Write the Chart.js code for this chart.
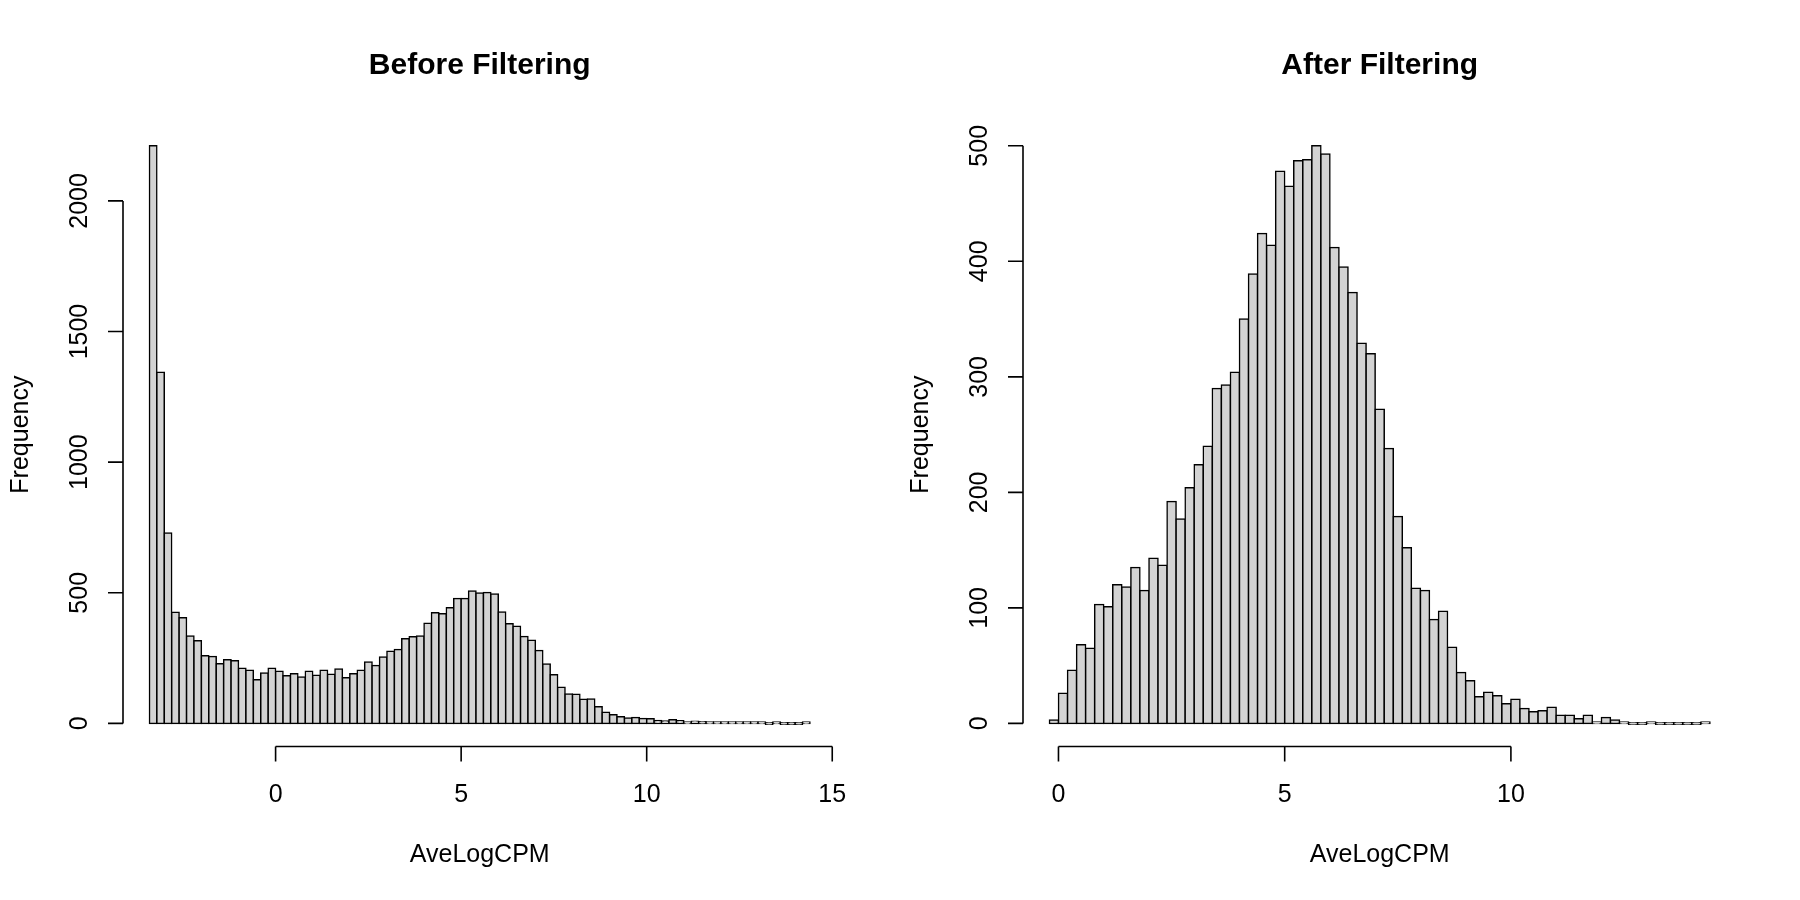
<!DOCTYPE html>
<html>
<head>
<meta charset="utf-8">
<title>AveLogCPM histograms</title>
<script src="https://cdn.jsdelivr.net/npm/chart.js@4.4.1/dist/chart.umd.min.js"></script>
<style>
  html, body { margin: 0; padding: 0; background: #fff; }
  #wrap { display: flex; width: 1800px; height: 900px; }
  canvas { display: block; }
</style>
</head>
<body>
<div id="wrap">
  <canvas id="before" width="900" height="900"></canvas>
  <canvas id="after" width="900" height="900"></canvas>
</div>
<script>
// histogram breaks are 0.2 wide; counts, one per bin
const binWidth = 0.2;

const beforeStart = -3.4;
const beforeCounts = [
  2211, 1344, 729, 425, 404, 335, 316, 259, 256, 228, 244, 240, 211, 203, 167, 193, 211,
  200, 182, 190, 178, 200, 184, 203, 188, 208, 175, 190, 203, 235, 222, 254, 276, 283, 324, 332, 335,
  383, 424, 420, 443, 478, 478, 507, 499, 501, 495, 426, 381, 372, 333, 318, 279, 227, 186, 138, 113,
  112, 92, 93, 64, 43, 33, 25, 21, 23, 19, 18, 11, 9, 14, 10, 5, 8, 6, 5, 5,
  3, 3, 3, 1, 1, 1, 0, 1, 0, 0, 0, 1
];

const afterStart = -0.2;
const afterCounts = [
  3,
  26, 46, 68, 65, 103, 101, 120, 118, 135, 115, 143, 137, 192, 177, 204, 224, 240, 290, 293, 304,
  350, 389, 424, 414, 478, 465, 487, 488, 500, 493, 412, 395, 373, 329, 320, 272, 238, 179, 152, 117,
  115, 90, 97, 66, 44, 37, 23, 27, 24, 17, 21, 13, 10, 11, 14, 7, 7, 4, 7, 1,
  5, 3, 1, 0, 0, 1, 0, 0, 0, 0, 0, 1
];

const beforeXTicks = [0, 5, 10, 15];
const beforeYTicks = [0, 500, 1000, 1500, 2000];
const afterXTicks = [0, 5, 10];
const afterYTicks = [0, 100, 200, 300, 400, 500];

const FONT = '"Liberation Sans", Arial, Helvetica, sans-serif';

// base-R style axes: line only between first and last tick, labels parallel to axis
const rAxes = {
  id: 'rAxes',
  afterDraw(chart, args, opts) {
    const { ctx, chartArea: a, scales: { x, y } } = chart;
    ctx.save();
    ctx.strokeStyle = '#000';
    ctx.fillStyle = '#000';
    ctx.lineWidth = 1.6;

    // x axis
    const xs = opts.xTicks.map(v => x.getPixelForValue(v));
    ctx.beginPath();
    ctx.moveTo(xs[0], a.bottom);
    ctx.lineTo(xs[xs.length - 1], a.bottom);
    xs.forEach(px => { ctx.moveTo(px, a.bottom); ctx.lineTo(px, a.bottom + 15); });
    ctx.stroke();
    ctx.font = '25px ' + FONT;
    ctx.textAlign = 'center';
    ctx.textBaseline = 'alphabetic';
    opts.xTicks.forEach((v, i) => ctx.fillText(String(v), xs[i], a.bottom + 55));

    // y axis
    const ys = opts.yTicks.map(v => y.getPixelForValue(v));
    ctx.beginPath();
    ctx.moveTo(a.left, ys[0]);
    ctx.lineTo(a.left, ys[ys.length - 1]);
    ys.forEach(py => { ctx.moveTo(a.left, py); ctx.lineTo(a.left - 15, py); });
    ctx.stroke();
    opts.yTicks.forEach((v, i) => {
      ctx.save();
      ctx.translate(a.left - 36, ys[i]);
      ctx.rotate(-Math.PI / 2);
      ctx.fillText(String(v), 0, 0);
      ctx.restore();
    });

    // axis titles
    const cx = (a.left + a.right) / 2;
    const cy = (a.top + a.bottom) / 2;
    ctx.fillText(opts.xLabel, cx, a.bottom + 115);
    ctx.save();
    ctx.translate(a.left - 95, cy);
    ctx.rotate(-Math.PI / 2);
    ctx.fillText(opts.yLabel, 0, 0);
    ctx.restore();

    // main title
    ctx.font = 'bold 30px ' + FONT;
    ctx.fillText(opts.title, cx, a.top - 49);
    ctx.restore();
  }
};

function histChart(canvasId, start, counts, xTicks, yTicks, title) {
  const centers = counts.map((c, i) => Math.round((start + (i + 0.5) * binWidth) * 1000) / 1000);
  const lo = start, hi = start + counts.length * binWidth;
  const ymax = Math.max(...counts);
  // R pads axis ranges by 4%
  const xPad = (hi - lo) * 0.04, yPad = ymax * 0.04;

  return new Chart(document.getElementById(canvasId), {
    type: 'bar',
    data: {
      datasets: [{
        data: counts.map((c, i) => ({ x: centers[i], y: c })),
        backgroundColor: '#D3D3D3',
        borderColor: '#000',
        borderWidth: 1.5,
        borderSkipped: false,
        inflateAmount: 0.75,
        minBarLength: 1.5,
        barPercentage: 1,
        categoryPercentage: 1
      }]
    },
    plugins: [rAxes],
    options: {
      responsive: false,
      animation: false,
      devicePixelRatio: 1,
      layout: { padding: { left: 123, right: 63.6, top: 122.7, bottom: 153.5 } },
      scales: {
        x: {
          type: 'linear',
          display: false,
          offset: false,
          min: lo - xPad,
          max: hi + xPad,
          afterBuildTicks: s => { s.ticks = xTicks.map(v => ({ value: v })); }
        },
        y: {
          type: 'linear',
          display: false,
          min: -yPad,
          max: ymax + yPad,
          afterBuildTicks: s => { s.ticks = yTicks.map(v => ({ value: v })); }
        }
      },
      plugins: {
        legend: { display: false },
        tooltip: { enabled: false },
        rAxes: { title: title, xLabel: 'AveLogCPM', yLabel: 'Frequency', xTicks: xTicks, yTicks: yTicks }
      }
    }
  });
}

histChart('before', beforeStart, beforeCounts, beforeXTicks, beforeYTicks, 'Before Filtering');
histChart('after', afterStart, afterCounts, afterXTicks, afterYTicks, 'After Filtering');
</script>
</body>
</html>
